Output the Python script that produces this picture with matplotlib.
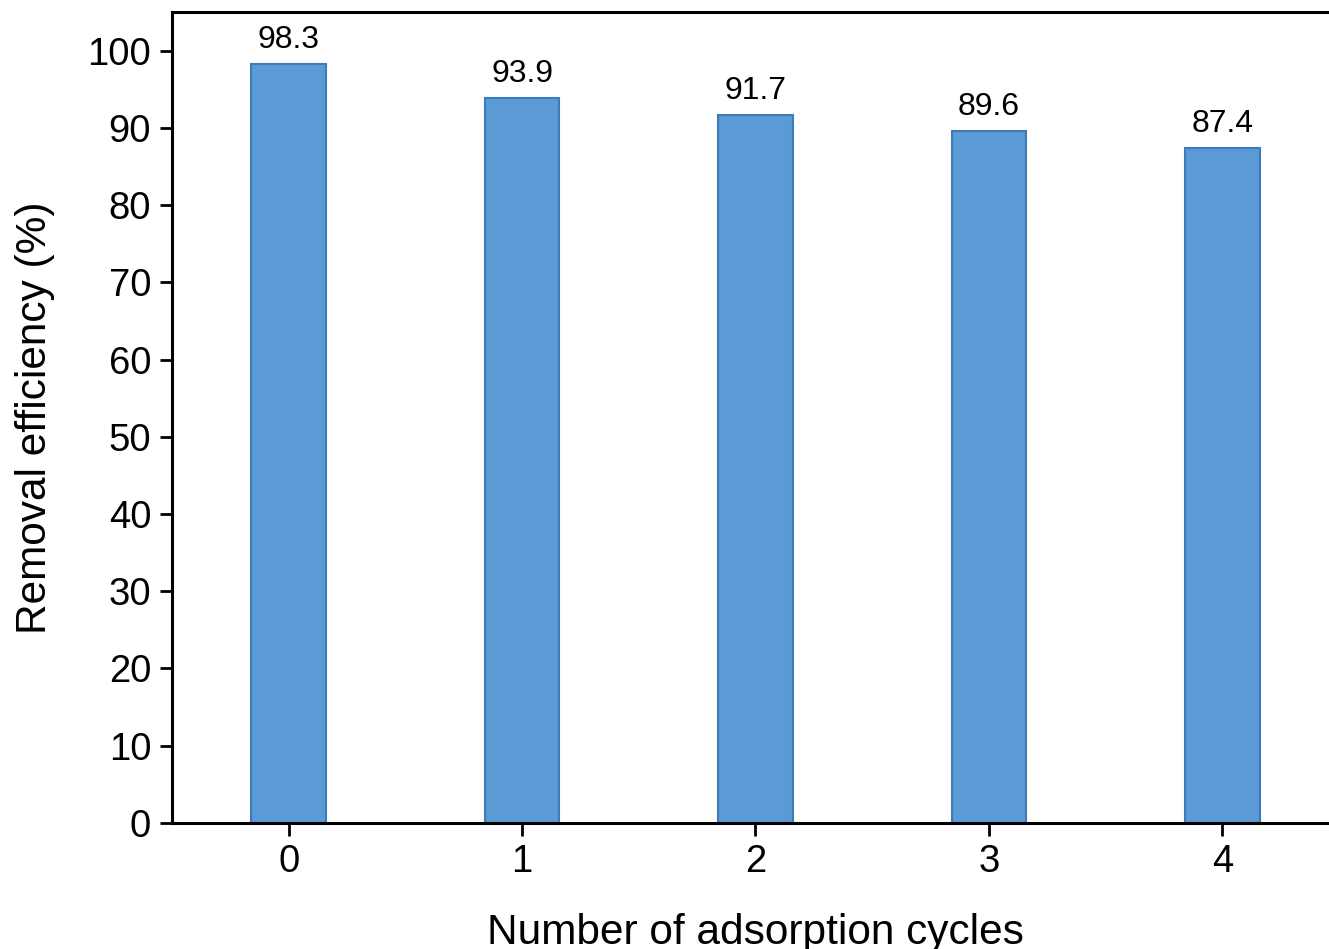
"""Bar chart of removal efficiency over repeated adsorption cycles"""
import matplotlib.pyplot as plt

plt.rcParams['font.family'] = ['Liberation Sans', 'DejaVu Sans']

cycles = ['0', '1', '2', '3', '4']
efficiency = [98.3, 93.9, 91.7, 89.6, 87.4]
yticks = [0, 10, 20, 30, 40, 50, 60, 70, 80, 90, 100]


def plot():
    """Draw the bars with their value labels"""
    fig = plt.figure(figsize=(13.29, 9.49), dpi=100)
    ax = fig.add_axes([0.1294, 0.1328, 0.8781, 0.8546])
    x = range(len(cycles))
    bars = ax.bar(x, efficiency, width=0.32, color='#5b9bd5',
                  edgecolor='#3e7cb8', linewidth=1.5)
    for bar, val in zip(bars, efficiency):
        ax.text(bar.get_x() + bar.get_width() / 2, val + 1.1, f"{val:.1f}",
                ha='center', va='bottom', fontsize=23)
    ax.set_xlim(-0.5, 4.5)
    ax.set_ylim(0, 105)
    ax.set_xticks(list(x))
    ax.set_xticklabels(cycles)
    ax.set_yticks(yticks)
    ax.tick_params(axis='both', labelsize=27.5, width=2, length=9, pad=6)
    for side in ax.spines.values():
        side.set_linewidth(2.2)
    ax.set_xlabel("Number of adsorption cycles", fontsize=30.5, labelpad=24)
    ax.set_ylabel("Removal efficiency (%)", fontsize=30.5, labelpad=23)
    fig.savefig("out.png", dpi=100)


if __name__ == "__main__":
    plot()
